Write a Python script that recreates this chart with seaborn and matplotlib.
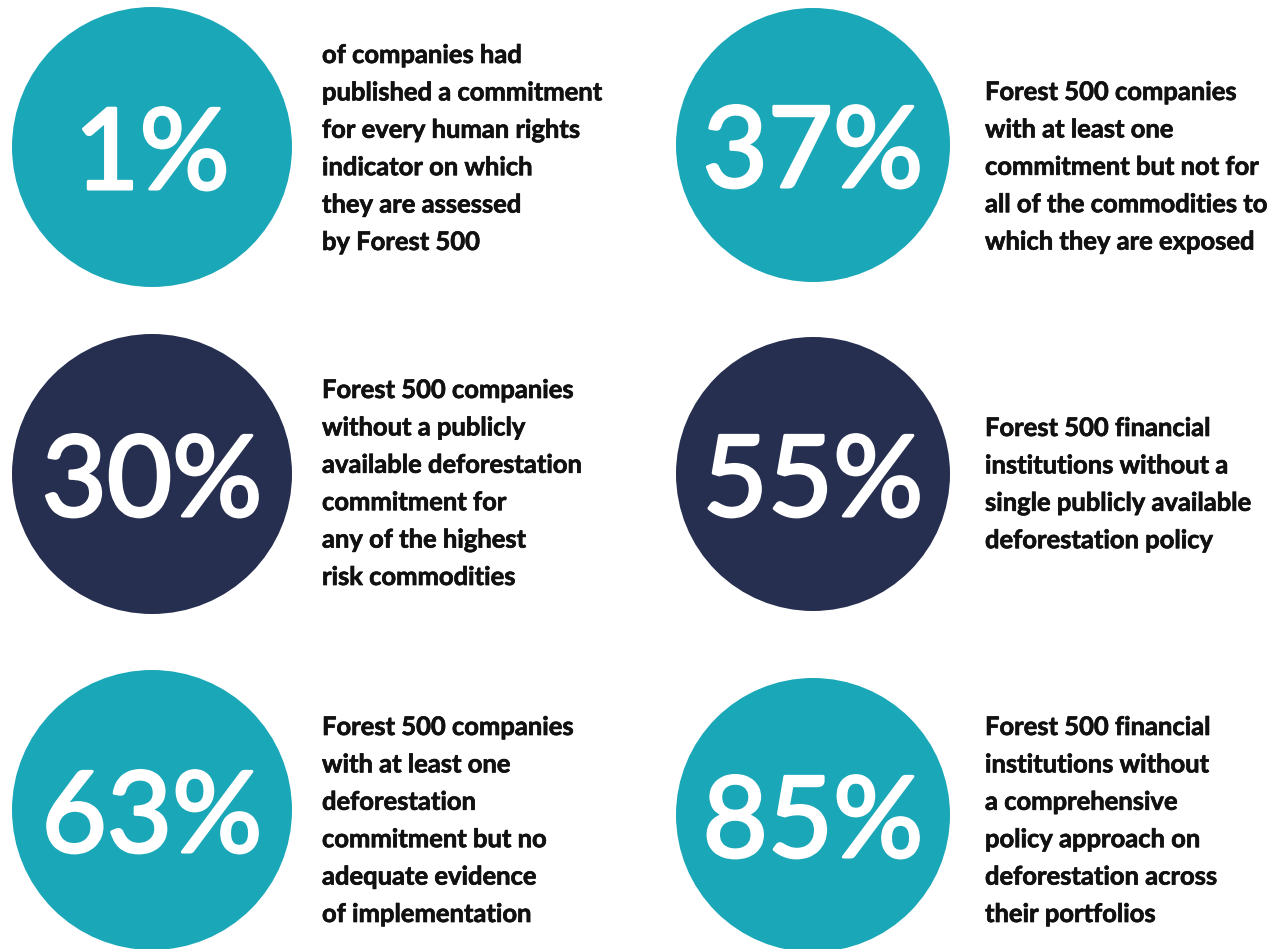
import matplotlib
matplotlib.use("Agg")
import matplotlib.pyplot as plt
import matplotlib.patheffects as pe
import seaborn as sns
import pandas as pd

# ---- data ----
values = ["1%", "37%", "30%", "55%", "63%", "85%"]
groups = ["teal", "teal", "navy", "navy", "teal", "teal"]
descriptions = [
    ["of companies had", "published a commitment", "for every human rights",
     "indicator on which", "they are assessed", "by Forest 500"],
    ["Forest 500 companies", "with at least one", "commitment but not for",
     "all of the commodities to", "which they are exposed"],
    ["Forest 500 companies", "without a publicly", "available deforestation",
     "commitment for", "any of the highest", "risk commodities"],
    ["Forest 500 financial", "institutions without a", "single publicly available",
     "deforestation policy"],
    ["Forest 500 companies", "with at least one", "deforestation",
     "commitment but no", "adequate evidence", "of implementation"],
    ["Forest 500 financial", "institutions without", "a comprehensive",
     "policy approach on", "deforestation across", "their portfolios"],
]

# ---- layout (pixels) ----
cx = [152, 813, 152, 813, 152, 813]
cy = [147, 145, 474, 474, 810, 815]
radius = [140, 137, 140, 137, 140, 137]
text_x = [322, 985, 322, 985, 322, 985]
first_baseline = [63, 100, 398, 436, 735, 735]
line_step = 37.4
palette = {"teal": "#1aa7b8", "navy": "#262f4f"}

W, H, DPI = 1272, 949, 100
sns.set_theme(style="white")
fig = plt.figure(figsize=(W / DPI, H / DPI), dpi=DPI)
ax = fig.add_axes([0, 0, 1, 1])
ax.set_xlim(0, W)
ax.set_ylim(H, 0)
ax.set_axis_off()

df = pd.DataFrame({"x": cx, "y": cy, "group": groups,
                   "s": [(2 * r * 72 / DPI) ** 2 for r in radius]})
for g, sub in df.groupby("group"):
    sns.scatterplot(data=sub, x="x", y="y", color=palette[g], s=sub["s"].values,
                    linewidth=0, ax=ax, legend=False, zorder=1)
ax.set_xlim(0, W)
ax.set_ylim(H, 0)
ax.set_xlabel("")
ax.set_ylabel("")

num_fx = [pe.withStroke(linewidth=2.2, foreground="white")]
body_fx = [pe.withStroke(linewidth=0.5, foreground="#111111")]
for i, v in enumerate(values):
    ax.text(cx[i], cy[i] + 42, v, ha="center", va="baseline", color="white",
            fontsize=81, family="Lato", fontweight="normal", zorder=3,
            path_effects=num_fx)
    for j, line in enumerate(descriptions[i]):
        ax.text(text_x[i], first_baseline[i] + j * line_step, line, ha="left",
                va="baseline", color="#111111", fontsize=18.4, family="Lato",
                fontweight="bold", zorder=3, path_effects=body_fx)

fig.savefig("out.png", dpi=DPI, facecolor="white")
